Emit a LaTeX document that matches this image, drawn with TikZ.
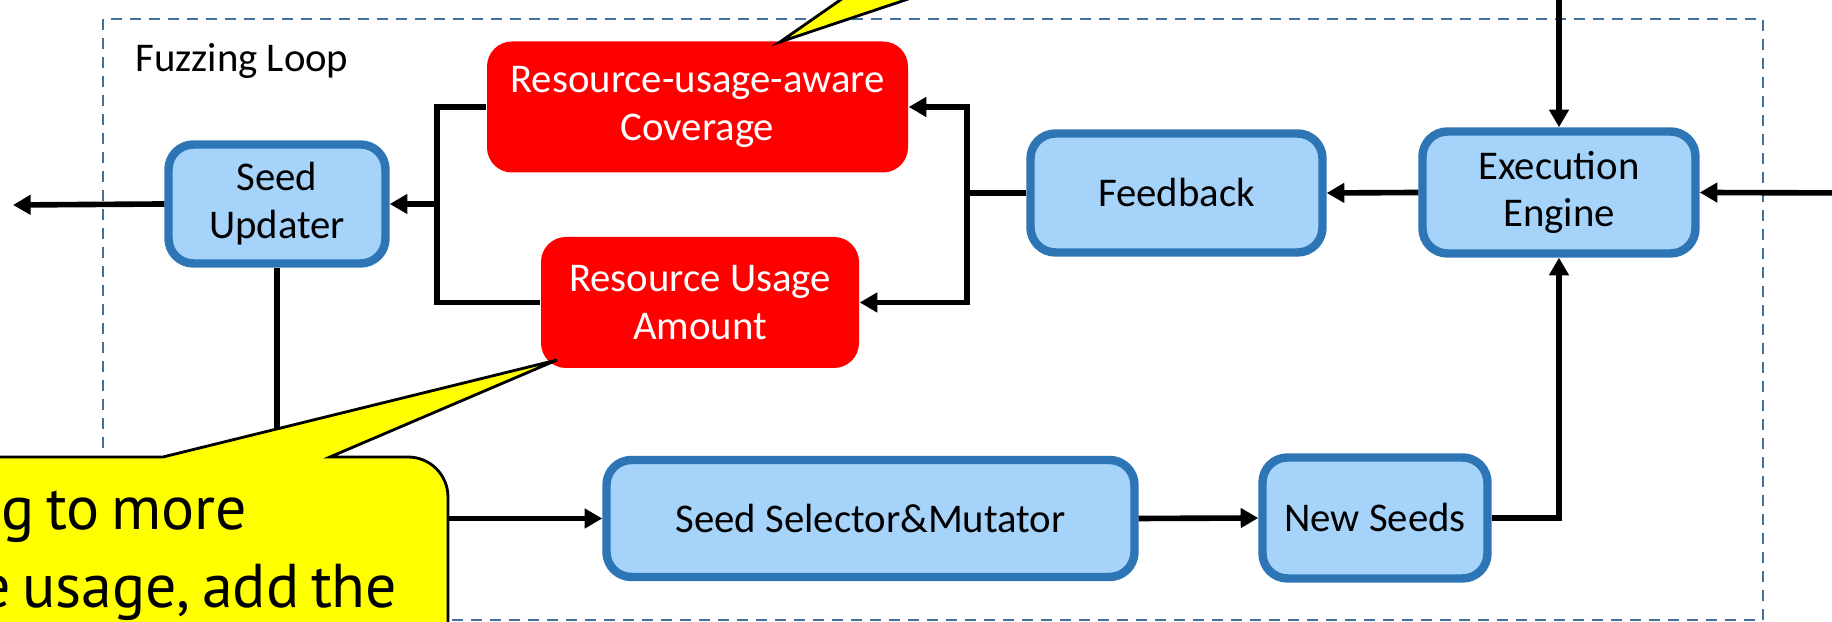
\documentclass[tikz,border=0pt]{standalone}
\usepackage{fontspec}
\setmainfont{Carlito}
\newfontfamily\notefont[WordSpace=0.7]{PT Sans}
\usetikzlibrary{arrows.meta,positioning,calc}
\definecolor{boxblue}{RGB}{46,117,182}
\definecolor{boxfill}{RGB}{165,211,250}
\definecolor{loopblue}{RGB}{65,113,156}
\definecolor{noteyellow}{RGB}{255,255,0}

\begin{document}
\begin{tikzpicture}[
  font=\fontsize{11.6}{13.6}\selectfont,
  stage/.style={draw=boxblue, line width=2.4pt, fill=boxfill,
    rounded corners=0.25cm, align=center, inner sep=0pt},
  metric/.style={fill=red, text=white, rounded corners=0.25cm,
    align=center, inner sep=0pt},
  link/.style={line width=1.6pt},
  flow/.style={link, -{Triangle[length=5pt,width=5.4pt]}},
  note/.style={draw=black, line width=0.8pt, fill=noteyellow},
  notetext/.style={anchor=base east, inner sep=0pt,
    font=\notefont\fontsize{17.6}{21}\selectfont}
]
  \useasboundingbox (0,0) rectangle (18.32,-6.22);
  \clip (0,0) rectangle (18.32,-6.22);

  % loop frame
  \draw[loopblue, line width=0.7pt, dash pattern=on 0.11cm off 0.08cm]
    (1.03,-0.19) rectangle (17.63,-6.20);
  \node[anchor=base west] (title) at (1.23,-0.72) {Fuzzing Loop};

  % stages of the loop
  \node[stage, minimum width=2.17cm, minimum height=1.19cm] (upd) at (2.77,-2.04) {Seed\\Updater};
  \node[stage, minimum width=2.92cm, minimum height=1.19cm] (fb) at (11.765,-1.93) {Feedback};
  \node[stage, minimum width=2.73cm, minimum height=1.22cm] (eng) at (15.59,-1.925) {Execution\\Engine};
  \node[stage, minimum width=5.28cm, minimum height=1.17cm] (sel) at (8.705,-5.185) {Seed Selector\&Mutator};
  \node[stage, minimum width=2.25cm, minimum height=1.21cm] (new) at (13.75,-5.18) {New Seeds};

  % new feedback metrics
  \node[metric, minimum width=4.21cm, minimum height=1.31cm] (cov) at (6.975,-1.07) {Resource-usage-aware\\Coverage};
  \node[metric, minimum width=3.18cm, minimum height=1.31cm] (amt) at (7.00,-3.025) {Resource Usage\\Amount};

  % junctions and loose ends
  \coordinate (jl) at ($(upd.east)+(0.47,0)$);
  \coordinate (jr) at ($(fb.west)+(-0.59,0)$);
  \coordinate (exit) at (0.13,-2.05);
  \coordinate (srcR) at (18.5,-1.93);
  \coordinate (srcT) at (15.59,0.1);

  % connectors
  \draw[flow] (srcT) -- (eng.north);
  \draw[flow] (srcR) -- (eng.east);
  \draw[flow] (eng.west) -- (fb.east);
  \draw[link] (fb.west) -- (jr);
  \draw[flow] (jr) |- (cov.east);
  \draw[flow] (jr) |- (amt.east);
  \draw[link] (cov.west) -| (jl) |- (amt.west);
  \draw[flow] (jl) -- (upd.east);
  \draw[flow] (upd.west) -- (exit);
  \draw[flow] (upd.south) |- (sel.west);
  \draw[flow] (sel.east) -- (new.west);
  \draw[flow] (new.east) -| (eng.south);

  % callouts
  \draw[note] (7.80,-0.42) -- (8.69,0.2) -- (9.65,0.2) -- cycle;
  \draw[note] (-0.3,-4.57) -- (1.63,-4.57) -- (5.57,-3.60) -- (3.30,-4.57)
    -- (4.08,-4.57) arc[start angle=90, end angle=0, radius=0.40]
    -- (4.48,-6.5) -- (-0.3,-6.5) -- cycle;
  \node[notetext] (n1) at (2.48,-5.30) {g to more};
  \node[notetext] (n2) at (3.98,-6.08) {e usage, add the};
\end{tikzpicture}
\end{document}
